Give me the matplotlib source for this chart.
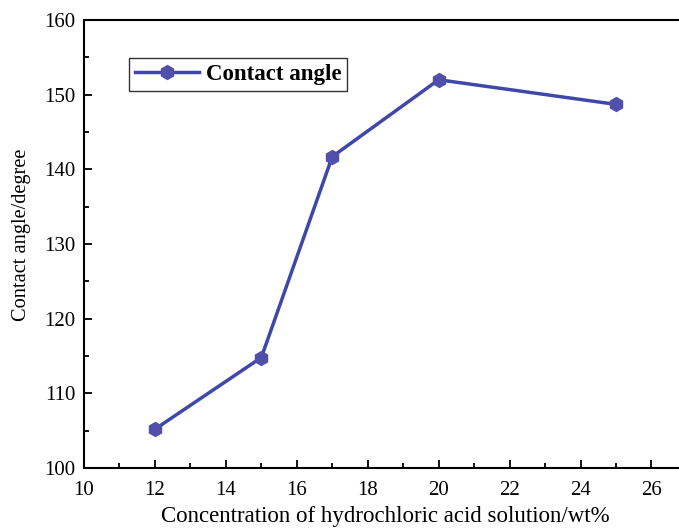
import matplotlib.pyplot as plt
from matplotlib.ticker import MultipleLocator

plt.rcParams['font.family'] = ['Liberation Serif', 'DejaVu Serif']

conc = [12, 15, 17, 20, 25]
angle = [105.2, 114.8, 141.7, 152.0, 148.7]

fig = plt.figure(figsize=(6.79, 5.28), dpi=100)
ax = fig.add_axes([0.1237, 0.1136, 0.888, 0.8485])

ax.plot(conc, angle, color='#3F48A8', linewidth=2.5, marker='h',
        markersize=10, markerfacecolor='#5050AA', markeredgecolor='#5050AA',
        label='Contact angle')

ax.set_xlim(10, 27)
ax.set_ylim(100, 160)
ax.xaxis.set_major_locator(MultipleLocator(2))
ax.xaxis.set_minor_locator(MultipleLocator(1))
ax.yaxis.set_major_locator(MultipleLocator(10))
ax.yaxis.set_minor_locator(MultipleLocator(5))
ax.tick_params(which='both', direction='in', labelsize=15, width=1.3)
ax.tick_params(which='major', length=6)
ax.tick_params(which='minor', length=3.5)
ax.tick_params(axis='x', pad=9)
ax.tick_params(axis='y', pad=6)
for s in ax.spines.values():
    s.set_linewidth(1.5)

ax.set_xlabel('Concentration of hydrochloric acid solution/wt%', fontsize=16.5, labelpad=5)
ax.set_ylabel('Contact angle/degree', fontsize=14.7)
ax.yaxis.set_label_coords(-0.088, 0.52)

leg = ax.legend(loc='upper left', bbox_to_anchor=(0.075, 0.915), fancybox=False,
                edgecolor='black', prop={'weight': 'bold', 'size': 16.5},
                handlelength=2.8, borderpad=0.25, handletextpad=0.3, borderaxespad=0)
leg.get_frame().set_linewidth(1.0)

fig.savefig('out.png', dpi=100)
